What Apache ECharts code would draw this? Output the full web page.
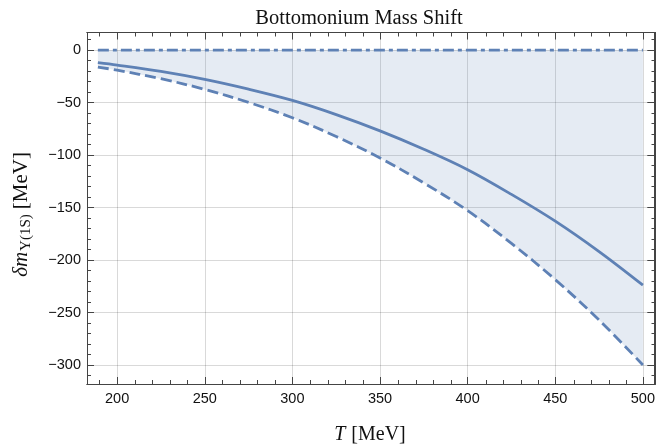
<!DOCTYPE html>
<html><head><meta charset="utf-8">
<script src="https://cdn.jsdelivr.net/npm/echarts@6/dist/echarts.min.js"></script>
<style>html,body{margin:0;padding:0;background:#fff}#c{width:658px;height:447px}</style>
</head><body><div id="c"></div>
<script>
// ---- data ----
const temperatures = [189, 200, 225, 250, 275, 300, 325, 350, 375, 400, 425, 450, 475, 500];
const shiftCentral = [-12, -14.3, -20.4, -28, -37.3, -48, -61.5, -77, -94.5, -114, -137.5, -163, -192, -224];
const shiftLower   = [-16.2, -19.2, -27.3, -37.5, -49.9, -64.5, -82.4, -102.8, -126.6, -153, -184.2, -218.7, -257.2, -300];
const shiftUpper   = [0, 0, 0, 0, 0, 0, 0, 0, 0, 0, 0, 0, 0, 0];
const xMajorTicks = [200, 250, 300, 350, 400, 450, 500];
const xMinorTicks = [190, 210, 220, 230, 240, 260, 270, 280, 290, 310, 320, 330, 340, 360, 370, 380, 390, 410, 420, 430, 440, 460, 470, 480, 490];
const yMajorTicks = [-300, -250, -200, -150, -100, -50, 0];
const yMinorTicks = [-310, -290, -280, -270, -260, -240, -230, -220, -210, -190, -180, -170, -160, -140, -130, -120, -110, -90, -80, -70, -60, -40, -30, -20, -10, 10];
const xRange = [182.8, 506.5];
const yRange = [-318.1, 16.7];

const pair = (xs, ys) => xs.map((x, i) => [x, ys[i]]);
const LINE = '#5e81b5';
const FRAME = '#444';
const gridBox = {left: 87, top: 32.5, width: 568.5, height: 351.5};

const ctx = document.createElement('canvas').getContext('2d');
function tw(text, font) { ctx.font = font; return ctx.measureText(text).width; }

function axis(kind, pos, gridIndex, ticks, len, withLabels, withSplit) {
  const r = kind === 'x' ? xRange : yRange;
  return {
    type: 'value', gridIndex, position: pos, min: r[0], max: r[1],
    axisLine: {show: true, onZero: false, lineStyle: {color: FRAME, width: 1}},
    axisTick: {show: true, inside: true, length: len, customValues: ticks, lineStyle: {color: FRAME, width: 1}},
    axisLabel: withLabels ? {
      show: true, customValues: ticks, margin: kind === 'x' ? 7 : 6,
      fontFamily: 'Liberation Sans', fontSize: 14.5, color: '#111',
      formatter: v => String(v).replace('-', '\u2212')
    } : {show: false},
    splitLine: withSplit ? {show: true, lineStyle: {color: 'rgba(0,0,0,0.15)', width: 1}} : {show: false},
    minorTick: {show: false}, minorSplitLine: {show: false}
  };
}

// y-axis title layout (rotated)
const fMainI = 'italic 21px "Liberation Serif"';
const fMain = '21px "Liberation Serif"';
const fSub = '15px "Liberation Serif"';
const wDm = tw('\u03b4m', fMainI), wSub = tw('\u03a5(1S)', fSub), wGap = 5, wUnit = tw('[MeV]', fMain);
const wTot = wDm + wSub + wGap + wUnit;
const x0 = -wTot / 2;

const fx = '20px "Liberation Serif"', fxi = 'italic 20px "Liberation Serif"';
const wT = tw('T', fxi), wU = tw('[MeV]', fx), gT = 6;
const xs0 = -(wT + gT + wU) / 2;

const chart = echarts.init(document.getElementById('c'), null, {renderer: 'canvas'});
chart.setOption({
  animation: false,
  backgroundColor: '#fff',
  title: {
    text: 'Bottomonium Mass Shift', left: 354, top: 3, textAlign: 'center',
    textStyle: {fontFamily: 'Liberation Serif', fontWeight: 'normal', fontSize: 20.5, color: '#111'}
  },
  grid: [Object.assign({}, gridBox), Object.assign({}, gridBox)],
  xAxis: [
    axis('x', 'bottom', 0, xMajorTicks, 7, true, true),
    axis('x', 'top', 0, xMajorTicks, 7, false, false),
    axis('x', 'bottom', 1, xMinorTicks, 4, false, false),
    axis('x', 'top', 1, xMinorTicks, 4, false, false)
  ],
  yAxis: [
    axis('y', 'left', 0, yMajorTicks, 7, true, true),
    axis('y', 'right', 0, yMajorTicks, 7, false, false),
    axis('y', 'left', 1, yMinorTicks, 4, false, false),
    axis('y', 'right', 1, yMinorTicks, 4, false, false)
  ],
  series: [
    {
      type: 'line', xAxisIndex: 0, yAxisIndex: 0, data: pair(temperatures, shiftLower),
      smooth: 0.35, showSymbol: false, symbol: 'none',
      lineStyle: {color: LINE, width: 2.8, type: [11, 5]},
      areaStyle: {color: 'rgba(94,129,181,0.23)', origin: 0}, z: 2
    },
    {
      type: 'line', xAxisIndex: 0, yAxisIndex: 0, data: pair(temperatures, shiftCentral),
      smooth: 0.35, showSymbol: false, symbol: 'none',
      lineStyle: {color: LINE, width: 2.8}, z: 3
    },
    {
      type: 'line', xAxisIndex: 0, yAxisIndex: 0, data: pair(temperatures, shiftUpper),
      showSymbol: false, symbol: 'none',
      lineStyle: {color: LINE, width: 2.8, type: [11, 4, 4, 4]}, z: 3
    }
  ],
  graphic: [
    {
      type: 'group', x: 21, y: 215, rotation: Math.PI / 2,
      children: [
        {type: 'text', x: x0, y: 0, style: {text: '\u03b4m', font: fMainI, fill: '#111', verticalAlign: 'middle', align: 'left'}},
        {type: 'text', x: x0 + wDm + 1, y: 5, style: {text: '\u03a5(1S)', font: fSub, fill: '#111', verticalAlign: 'middle', align: 'left'}},
        {type: 'text', x: x0 + wDm + 1 + wSub + wGap, y: 0, style: {text: '[MeV]', font: fMain, fill: '#111', verticalAlign: 'middle', align: 'left'}}
      ]
    },
    {
      type: 'group', x: 370, y: 435,
      children: [
        {type: 'text', x: xs0, y: 0, style: {text: 'T', font: fxi, fill: '#111', verticalAlign: 'middle', align: 'left'}},
        {type: 'text', x: xs0 + wT + gT, y: 0, style: {text: '[MeV]', font: fx, fill: '#111', verticalAlign: 'middle', align: 'left'}}
      ]
    }
  ]
});
</script>
</body></html>
